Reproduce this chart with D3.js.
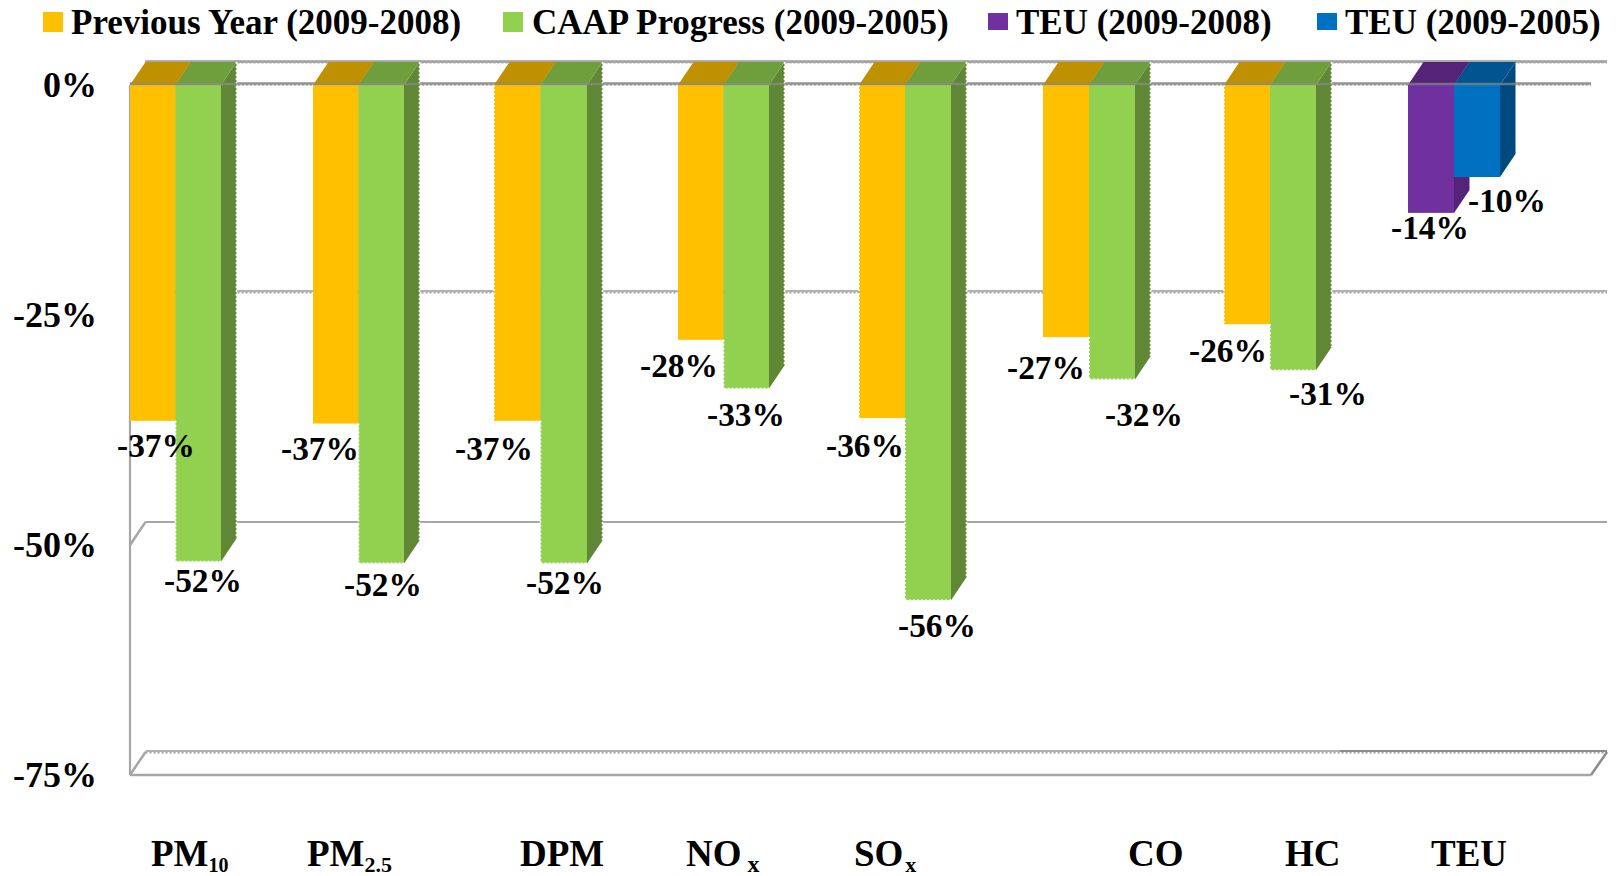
<!DOCTYPE html>
<html><head><meta charset="utf-8">
<script src="https://cdn.jsdelivr.net/npm/d3@7"></script>
<style>
html,body{margin:0;padding:0;background:#fff;overflow:hidden}
text{font-family:"Liberation Serif",serif;font-weight:bold;fill:#000}
</style></head><body><svg id="c" width="1623" height="876"></svg>
<script>
const categories=["PM10","PM2.5","DPM","NOx","SOx","CO","HC","TEU"];
const previousYear=[-36.5,-36.8,-36.5,-27.7,-36.2,-27.4,-26,null];
const caapProgress=[-51.8,-52,-52,-33,-56,-32,-31,null];
const teu0908=[null,null,null,null,null,null,null,-13.9];
const teu0905=[null,null,null,null,null,null,null,-10];
const prevLabels=["-37%","-37%","-37%","-28%","-36%","-27%","-26%",null];
const caapLabels=["-52%","-52%","-52%","-33%","-56%","-32%","-31%",null];
const teu08Labels=[null,null,null,null,null,null,null,"-14%"];
const teu05Labels=[null,null,null,null,null,null,null,"-10%"];
const yTicks=[0,-25,-50,-75];
const seriesNames=["Previous Year (2009-2008)","CAAP Progress (2009-2005)","TEU (2009-2008)","TEU (2009-2005)"];

const svg=d3.select("#c");
const y=d3.scaleLinear().domain([0,-75]).range([85,775]);
const x=d3.scaleOrdinal().domain(categories).range([130,313,494,678,859,1043,1224,1408]);
const w=d3.scaleOrdinal().domain(categories).range([45.5,45.5,46.5,45.5,46,46,46,46]);
const dx=15.5,dy=23;
const xL=130,xFrontR=1591,xBackR=1607;
const g=svg.append("g");
const grey="#a6a6a6";

function jagLine(parent,x1,x2,yy){
  parent.append("line").attr("x1",x1).attr("x2",x2).attr("y1",yy).attr("y2",yy)
    .attr("stroke","#b0b0b0").attr("stroke-width",1.8);
  parent.append("line").attr("x1",x1).attr("x2",x2).attr("y1",yy+1.6).attr("y2",yy+1.6)
    .attr("stroke","#a0a0a0").attr("stroke-width",1.8).attr("stroke-dasharray","2 2");
}
yTicks.forEach(t=>{
  const yy=y(t)-dy;
  if(t===-50) g.append("line").attr("x1",xL+dx).attr("x2",xBackR).attr("y1",yy).attr("y2",yy).attr("stroke",grey).attr("stroke-width",2.2);
  else jagLine(g,xL+dx,xBackR,yy-1);
  if(t<=-50) g.append("line").attr("x1",xL).attr("x2",xL+dx).attr("y1",y(t)).attr("y2",yy).attr("stroke",grey).attr("stroke-width",2.5);
});
g.append("line").attr("x1",xL).attr("x2",xL).attr("y1",y(0)).attr("y2",y(-75)).attr("stroke",grey).attr("stroke-width",2.2);
g.append("line").attr("x1",xL).attr("x2",xFrontR).attr("y1",y(-75)).attr("y2",y(-75)).attr("stroke",grey).attr("stroke-width",2.5);
g.append("line").attr("x1",xFrontR).attr("x2",xBackR).attr("y1",y(-75)).attr("y2",y(-75)-dy).attr("stroke","#8c8c8c").attr("stroke-width",2.5);
jagLine(g,xL,xFrontR,y(0)-2);
g.append("line").attr("x1",1340).attr("x2",xBackR).attr("y1",y(-75)-dy-1).attr("y2",y(-75)-dy-1).attr("stroke","#8c8c8c").attr("stroke-width",2);
g.append("line").attr("x1",xL+dx).attr("x2",xBackR).attr("y1",y(0)-dy).attr("y2",y(0)-dy).attr("stroke",grey).attr("stroke-width",2.2);

const styles=[
 {v:previousYear,f:"#ffc000",t:"#bf9000",s:"#bf9000",o:0},
 {v:caapProgress,f:"#92d050",t:"#6f9e3c",s:"#5f8735",o:1},
 {v:teu0908,f:"#7030a0",t:"#542478",s:"#542478",o:0},
 {v:teu0905,f:"#0070c0",t:"#005490",s:"#004a80",o:1}];
const pts=a=>a.map(p=>p.join(",")).join(" ");
styles.forEach(st=>{
  const gs=svg.append("g");
  const data=categories.map((c,i)=>({c,v:st.v[i]})).filter(d=>d.v!==null);
  const left=d=>x(d.c)+st.o*w(d.c);
  gs.selectAll(".side").data(data).join("polygon")
    .attr("fill",st.s).attr("points",d=>pts([[left(d)+w(d.c),y(0)],[left(d)+w(d.c)+dx,y(0)-dy],[left(d)+w(d.c)+dx,y(d.v)-dy],[left(d)+w(d.c),y(d.v)]]));
  gs.selectAll(".top").data(data).join("polygon")
    .attr("fill",st.t).attr("points",d=>pts([[left(d),y(0)],[left(d)+dx,y(0)-dy],[left(d)+w(d.c)+dx,y(0)-dy],[left(d)+w(d.c),y(0)]]));
  gs.selectAll(".front").data(data).join("rect")
    .attr("fill",st.f).attr("x",left).attr("width",d=>w(d.c)).attr("y",y(0)).attr("height",d=>y(d.v)-y(0));
});

// jagged raster edges of the source on the green bars
const jag=svg.append("g").attr("stroke","#fff").attr("stroke-width",1.6).attr("stroke-dasharray","2 2");
categories.forEach((c,i)=>{
  if(caapProgress[i]===null) return;
  const bw=w(c),gx=x(c)+bw;
  jag.append("line").attr("x1",gx+bw+dx).attr("x2",gx+bw+dx).attr("y1",y(0)-dy).attr("y2",y(caapProgress[i])-dy);
  jag.append("line").attr("x1",gx).attr("x2",gx).attr("y1",y(previousYear[i])).attr("y2",y(caapProgress[i]));
  jag.append("line").attr("x1",gx).attr("x2",gx+bw).attr("y1",y(caapProgress[i])).attr("y2",y(caapProgress[i]));
  if(i===2||i===4||i===6) jag.append("line").attr("x1",x(c)).attr("x2",x(c)).attr("y1",y(0)).attr("y2",y(previousYear[i]));
});

// front axis line shows through bars
svg.append("line").attr("x1",xL).attr("x2",xFrontR).attr("y1",y(0)-1).attr("y2",y(0)-1).attr("stroke","#8c8c8c").attr("stroke-opacity",.7).attr("stroke-width",2.5);

// y axis labels
svg.selectAll(".yt").data(yTicks).join("text").attr("x",97).attr("y",t=>y(t)+12).attr("text-anchor","end")
  .attr("font-size",36).text(t=>t+"%");

// data labels
const labelPos=[
 {l:prevLabels,xs:[156,320,494,679,865,1046,1228,null],ys:[457,460,460,377,457,379,362,null]},
 {l:caapLabels,xs:[203,383,565,746,937,1144,1328,null],ys:[592,596,594,426,637,426,405,null]},
 {l:teu08Labels,xs:[null,null,null,null,null,null,null,1430],ys:[null,null,null,null,null,null,null,239]},
 {l:teu05Labels,xs:[null,null,null,null,null,null,null,1507],ys:[null,null,null,null,null,null,null,212]}];
labelPos.forEach(p=>{
  svg.append("g").selectAll("text").data(p.l.map((t,i)=>({t,x:p.xs[i],y:p.ys[i]})).filter(d=>d.t))
    .join("text").attr("x",d=>d.x).attr("y",d=>d.y).attr("text-anchor","middle").attr("font-size",33.4).text(d=>d.t);
});

// category labels
const catBase=[["PM","10",0,20],["PM","2.5",0,22],["DPM",""],["NO","x",6,24],["SO","x",2,22],["CO",""],["HC",""],["TEU",""]];
const catX=[151,307,520,686,854,1128,1285,1431];
catBase.forEach((c,i)=>{
  const t=svg.append("text").attr("x",catX[i]).attr("y",866).attr("font-size",37);
  t.append("tspan").text(c[0]);
  if(c[1]) t.append("tspan").attr("dx",c[2]).attr("dy",6).attr("font-size",c[3]).text(c[1]);
});

// legend
const legX=[43,503,988,1317],legTx=[71,532,1016,1345];
const legY=[12,12,13,13],legH=[20,20,17,17];
const legC=["#ffc000","#92d050","#7030a0","#0070c0"];
seriesNames.forEach((n,i)=>{
  svg.append("rect").attr("x",legX[i]).attr("y",legY[i]).attr("width",20).attr("height",legH[i]).attr("fill",legC[i]);
  svg.append("text").attr("x",legTx[i]).attr("y",34).attr("font-size",35).text(n);
});
</script></body></html>
